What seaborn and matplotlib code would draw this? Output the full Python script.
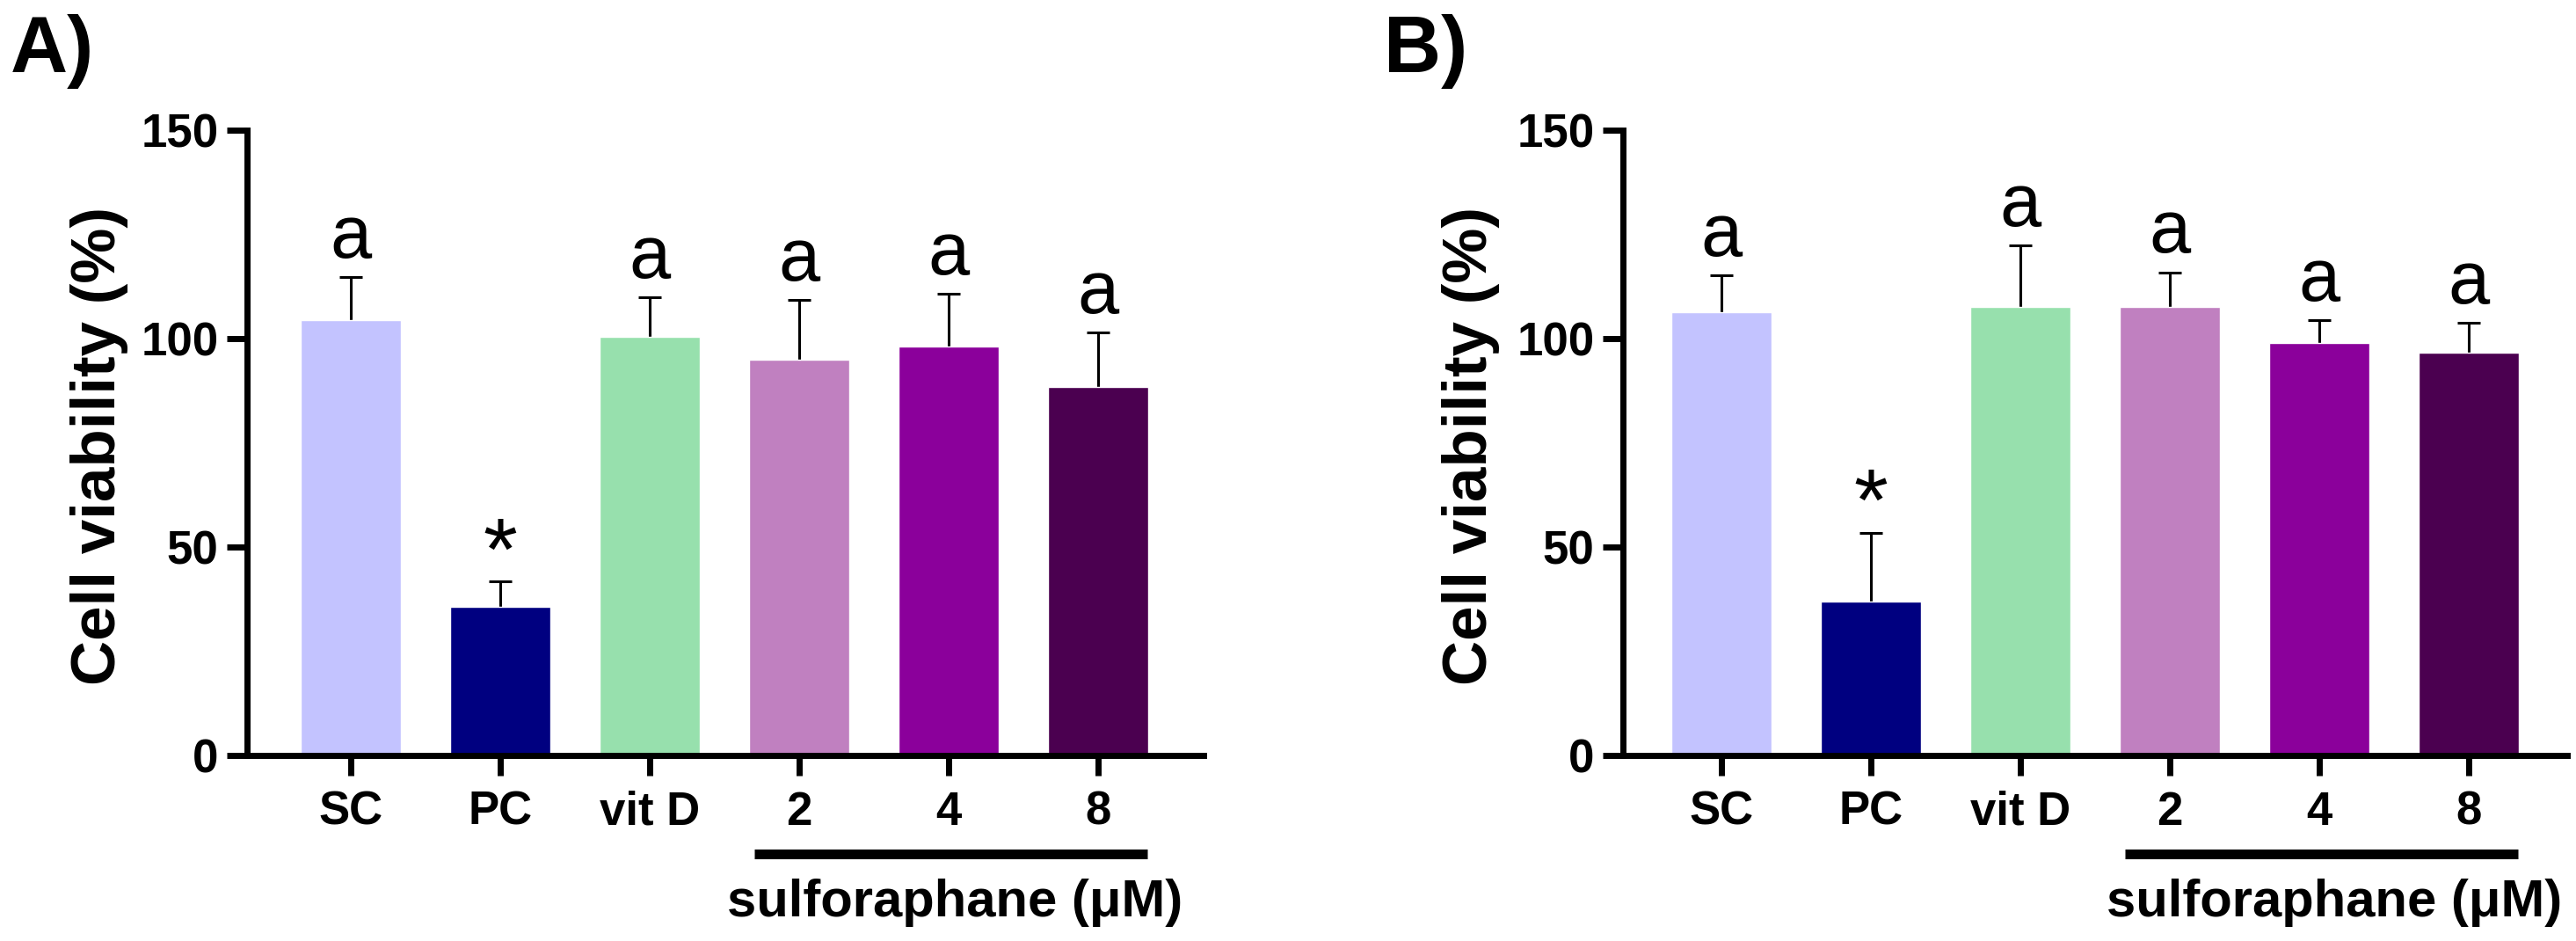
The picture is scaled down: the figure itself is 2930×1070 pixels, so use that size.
import numpy as np
import pandas as pd
import matplotlib
matplotlib.use("Agg")
import matplotlib.pyplot as plt
import seaborn as sns

groups = ["SC", "PC", "vit D", "2", "4", "8"]
colors = ["#C3C3FF", "#000080", "#97E0AD", "#C080C0", "#8B009B", "#4B0050"]

a_mean = [104.5, 35.7, 100.5, 95.0, 98.0, 88.4]
a_sd = [10.3, 6.0, 9.4, 14.2, 12.8, 13.0]
b_mean = [106.3, 37.0, 107.6, 107.5, 99.0, 96.6]
b_sd = [8.9, 16.4, 14.8, 8.4, 5.4, 7.1]
marks = ["a", "*", "a", "a", "a", "a"]

sns.set_style("ticks")
plt.rcParams['font.family'] = ['Liberation Sans', 'DejaVu Sans']
plt.rcParams.update({"text.color": "black", "axes.labelcolor": "black",
                     "xtick.color": "black", "ytick.color": "black",
                     "axes.edgecolor": "black"})

fig = plt.figure(figsize=(29.3, 10.7), dpi=100)
W, H = 2930, 1070

# axes boxes in pixels: left, right, xlim
panels = [
    ("A)", a_mean, a_sd, 281, 1369, (-0.694, 5.706), 12, 4.04),
    ("B)", b_mean, b_sd, 1846, 2920, (-0.659, 5.659), 1574, 4.10),
]

for tag, mean, sd, x0, x1, xl, tagx, textx in panels:
    ax = fig.add_axes([x0 / W, (H - 859) / H, (x1 - x0) / W, (859 - 148) / H])
    df = pd.DataFrame({"group": groups, "val": mean})
    sns.barplot(data=df, x="group", y="val", hue="group", palette=colors,
                legend=False, width=0.67, saturation=1, ax=ax, zorder=2)

    eb = ax.errorbar(np.arange(len(groups)), mean, yerr=[np.zeros(len(sd)), sd],
                     fmt="none", ecolor="black", elinewidth=2.2, capsize=9.5,
                     capthick=2.2, zorder=1)
    for c in eb[1]:
        if np.allclose(c.get_ydata(), mean):
            c.set_visible(False)

    for i, (m, s, t) in enumerate(zip(mean, sd, marks)):
        if t == "*":
            ax.annotate(t, (i, m + s), xytext=(0, 2), textcoords="offset points",
                        ha="center", va="baseline", fontsize=72)
        else:
            ax.annotate(t, (i, m + s), xytext=(0, 16), textcoords="offset points",
                        ha="center", va="baseline", fontsize=61)

    ax.set_ylim(0, 150)
    ax.set_xlim(*xl)
    ax.set_yticks([0, 50, 100, 150])
    sns.despine(ax=ax)
    for side in ["left", "bottom"]:
        ax.spines[side].set_linewidth(5)
        ax.spines[side].set_color("black")
    ax.tick_params(axis="both", width=5, length=16.5, labelsize=38, color="black",
                   labelcolor="black")
    ax.tick_params(axis="x", pad=12)
    ax.tick_params(axis="y", pad=7)
    for lab in ax.get_xticklabels() + ax.get_yticklabels():
        lab.set_fontweight("bold")

    ax.set_xlabel("")
    ax.set_ylabel("Cell viability (%)", fontsize=51, fontweight="bold", color="black")
    ax.yaxis.set_label_coords(-0.124 if tag == "A)" else -0.13, 0.495)

    trans = ax.get_xaxis_transform()
    ax.plot([2.7, 5.33], [-0.1575, -0.1575], color="black", lw=8,
            solid_capstyle="butt", transform=trans, clip_on=False)
    ax.text(textx, -0.236, "sulforaphane (\u03bcM)", transform=trans,
            ha="center", va="center", fontsize=43, fontweight="bold")

    fig.text(tagx / W, 1 - 82 / H, tag, fontsize=65, fontweight="bold",
             ha="left", va="baseline")

fig.savefig("out.png", dpi=100)
